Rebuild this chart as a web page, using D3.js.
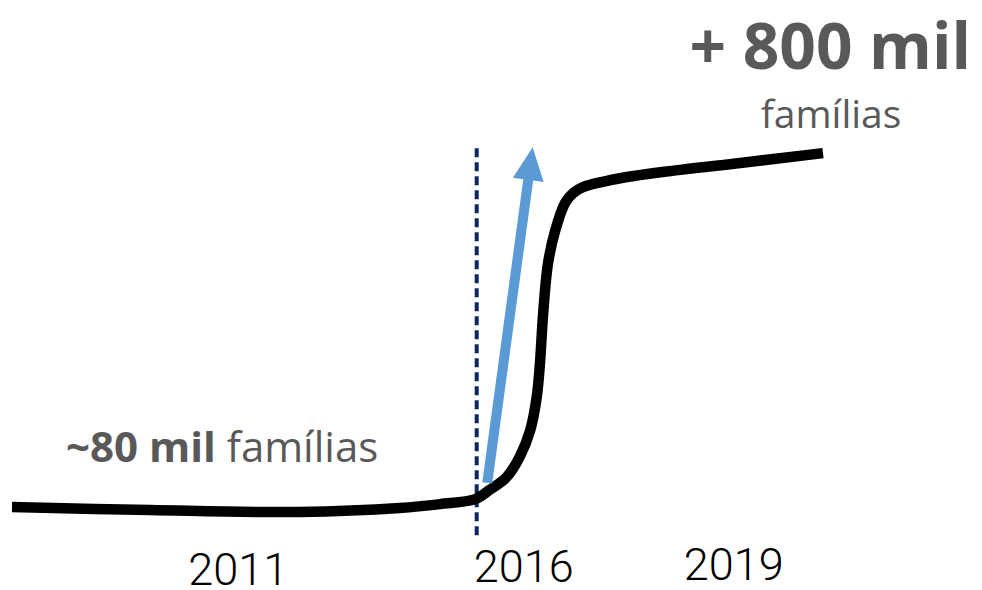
<!DOCTYPE html>
<html>
<head>
<meta charset="utf-8">
<script src="https://cdn.jsdelivr.net/npm/d3@7"></script>
<style>
  body { margin: 0; background: #fff; }
  svg { display: block; }
</style>
</head>
<body>
<div id="chart"></div>
<script>
// illustrative curve: t is a time index 0..100, v is thousands of families
const curveT = [0, 17, 35.5, 47.8, 52.8, 57.1, 58.9, 61.0, 62.6, 63.9, 64.7, 65.1, 65.5, 66.1, 67.0, 68.2, 69.2, 70.4, 75.0, 82.4, 89.8, 100];
const curveV = [81, 75, 71, 79, 87, 97, 116, 142, 183, 237, 304, 373, 475, 576, 643, 698, 718, 730, 748, 765, 779, 799];

const markT = 57.3;          // dashed line
const markV = [24, 811];
const arrowT = [58.6, 64.2]; // blue arrow tail -> tip
const arrowV = [130, 811];

const yearTicks = [27.9, 63.1, 89.0];
const yearLabels = ["2011", "2016", "2019"];
const yearBase = [585, 582, 580];

const width = 982, height = 590;

const svg = d3.select("#chart").append("svg")
  .attr("width", width)
  .attr("height", height);

const x = d3.scaleLinear().domain([0, 100]).range([12, 823]);
const y = d3.scaleLinear().domain([0, 1000]).range([547, 54]);

// dashed vertical line
svg.append("line")
  .attr("x1", x(markT)).attr("x2", x(markT))
  .attr("y1", y(markV[0])).attr("y2", y(markV[1]))
  .attr("stroke", "#0b2760")
  .attr("stroke-width", 4)
  .attr("stroke-dasharray", "9,5");

// main curve
const line = d3.line()
  .x((d, i) => x(curveT[i]))
  .y((d, i) => y(curveV[i]))
  .curve(d3.curveCatmullRom.alpha(0.5));

svg.append("path")
  .datum(curveT)
  .attr("d", line)
  .attr("fill", "none")
  .attr("stroke", "#000")
  .attr("stroke-width", 10.5)
  .attr("stroke-linecap", "butt");

// blue arrow
const x0 = x(arrowT[0]), y0 = y(arrowV[0]);
const x1 = x(arrowT[1]), y1 = y(arrowV[1]);
const len = Math.hypot(x1 - x0, y1 - y0);
const ux = (x1 - x0) / len, uy = (y1 - y0) / len;
const px = -uy, py = ux;
const headLen = 33, headW = 15.5, shaftW = 5;
const bx = x1 - ux * headLen, by = y1 - uy * headLen;
const pts = [
  [x0 + px * shaftW, y0 + py * shaftW],
  [bx + px * shaftW, by + py * shaftW],
  [bx + px * headW, by + py * headW],
  [x1, y1],
  [bx - px * headW, by - py * headW],
  [bx - px * shaftW, by - py * shaftW],
  [x0 - px * shaftW, y0 - py * shaftW]
];
svg.append("polygon")
  .attr("points", pts.map(p => p.join(",")).join(" "))
  .attr("fill", "#5b9bd5");

// year labels
svg.selectAll("text.year")
  .data(yearLabels)
  .join("text")
  .attr("class", "year")
  .attr("x", (d, i) => x(yearTicks[i]))
  .attr("y", (d, i) => yearBase[i])
  .attr("text-anchor", "middle")
  .attr("font-family", "Roboto, sans-serif")
  .attr("font-weight", 300)
  .attr("font-size", 45)
  .attr("fill", "#000")
  .text(d => d);

// annotations
const grey = "#595959";
const left = svg.append("text")
  .attr("x", 66).attr("y", 462)
  .attr("font-family", "'Open Sans', sans-serif")
  .attr("font-size", 42)
  .attr("fill", grey);
left.append("tspan").attr("font-weight", "bold").text("~80 mil");
left.append("tspan").text(" famílias");

svg.append("text")
  .attr("x", 971).attr("y", 69)
  .attr("text-anchor", "end")
  .attr("font-family", "'Open Sans', sans-serif")
  .attr("font-size", 64)
  .attr("font-weight", "bold")
  .attr("fill", grey)
  .text("+ 800 mil");

svg.append("text")
  .attr("x", 831).attr("y", 128)
  .attr("text-anchor", "middle")
  .attr("font-family", "'Open Sans', sans-serif")
  .attr("font-size", 39)
  .attr("fill", grey)
  .text("famílias");
</script>
</body>
</html>
